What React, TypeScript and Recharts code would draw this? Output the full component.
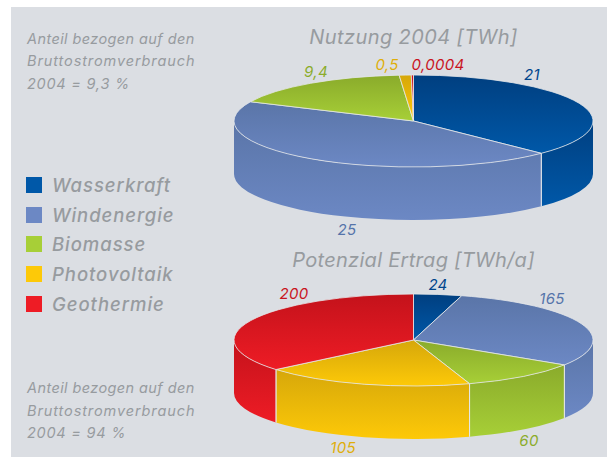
import React from 'react';
import { PieChart, Pie, Legend } from 'recharts';

const categories = ['Wasserkraft', 'Windenergie', 'Biomasse', 'Photovoltaik', 'Geothermie'];
const usage2004 = [21, 25, 9.4, 0.5, 0.0004];
const usageLabels = ['21', '25', '9,4', '0,5', '0,0004'];
const potential = [24, 165, 60, 105, 200];
const potentialLabels = ['24', '165', '60', '105', '200'];
const lightColors = ['#0058a8', '#6c88c4', '#a7cf37', '#fdc908', '#ee1c25'];
const darkColors = ['#003f80', '#5a75a8', '#8aab2b', '#d6a70a', '#c4121b'];
const labelColors = ['#00458c', '#5574aa', '#8bac2b', '#dfae0a', '#c9151e'];
const noteTop = ['Anteil bezogen auf den', 'Bruttostromverbrauch', '2004 = 9,3 %'];
const noteBottom = ['Anteil bezogen auf den', 'Bruttostromverbrauch', '2004 = 94 %'];

const FONT = 'Inter, sans-serif';
const GREY = '#979b9f';
const RX = 179.5;
const RY = 46;
const DEPTH = 53;

const usageAnchors = [[532, 80], [347, 235], [316, 77], [387, 70], [438, 70]];
const potentialAnchors = [[438, 290], [552, 304], [529, 446], [343, 453], [294, 299]];
const noteSpacing = [0.4, 0.9, 0.75];

const build = (values: number[]) =>
  categories.map((name, idx) => ({ name, value: values[idx], fill: lightColors[idx], idx }));

const rad = (a: number) => (a * Math.PI) / 180;

function Sector3D(props: any) {
  const { cx, cy, startAngle, endAngle, idx } = props;
  const pt = (a: number, dy = 0) => [cx + RX * Math.cos(rad(a)), cy - RY * Math.sin(rad(a)) + dy];
  const s = pt(startAngle);
  const e = pt(endAngle);
  const large = startAngle - endAngle > 180 ? 1 : 0;
  const top = `M${cx},${cy}L${s[0]},${s[1]}A${RX},${RY} 0 ${large} 1 ${e[0]},${e[1]}Z`;
  const hi = Math.min(startAngle, 0);
  const lo = Math.max(endAngle, -180);
  let wall: React.ReactNode = null;
  if (hi > lo) {
    const a = pt(hi);
    const b = pt(lo);
    const c = pt(lo, DEPTH);
    const d = pt(hi, DEPTH);
    wall = (
      <g>
        <path
          d={`M${a[0]},${a[1]}A${RX},${RY} 0 0 1 ${b[0]},${b[1]}L${c[0]},${c[1]}A${RX},${RY} 0 0 0 ${d[0]},${d[1]}Z`}
          fill={`url(#grad${idx})`}
        />
        {hi < 0 && <line x1={a[0]} y1={a[1]} x2={d[0]} y2={d[1]} stroke="#e4e7ea" strokeWidth={1} />}
        {lo > -180 && <line x1={b[0]} y1={b[1]} x2={c[0]} y2={c[1]} stroke="#e4e7ea" strokeWidth={1} />}
      </g>
    );
  }
  return (
    <g>
      {wall}
      <path d={top} fill={`url(#grad${idx})`} stroke="#e4e7ea" strokeWidth={0.8} />
    </g>
  );
}

const makeLabel = (texts: string[], anchors: number[][]) => (props: any) => {
  const i = props.index;
  return (
    <text
      key={i}
      x={anchors[i][0]}
      y={anchors[i][1]}
      textAnchor="middle"
      fontFamily={FONT}
      fontStyle="italic"
      fontSize={15}
      letterSpacing={0.3}
      fill={labelColors[i]}
    >
      {texts[i]}
    </text>
  );
};

function LegendList(props: any) {
  const items = (props.payload || []).slice(0, categories.length);
  return (
    <svg width={230} height={330} style={{ display: 'block' }}>
      {items.map((it: any, i: number) => {
        const top = [177, 207, 236, 266, 296][i];
        return (
          <g key={it.value}>
            <rect x={26} y={top} width={16} height={16} fill={lightColors[i]} />
            <text x={52} y={top + 15} fontFamily={FONT} fontStyle="italic" fontWeight={500} fontSize={18.5} letterSpacing={0.95} fill={GREY}>
              {it.value}
            </text>
          </g>
        );
      })}
    </svg>
  );
}

const Note = ({ lines, ys }: { lines: string[]; ys: number[] }) => (
  <g>
    {lines.map((t, i) => (
      <text key={t} x={27} y={ys[i]} fontFamily={FONT} fontStyle="italic" fontSize={14.5} letterSpacing={noteSpacing[i]} fill={GREY}>
        {t}
      </text>
    ))}
  </g>
);

export default function App() {
  return (
    <div style={{ position: 'fixed', left: 0, top: 0, width: 607, height: 457, background: '#fff' }}>
      <div style={{ position: 'absolute', left: 11, top: 7, right: 0, bottom: 0, background: '#dbdee3' }} />
      <div style={{ position: 'absolute', left: 0, top: 0 }}>
        <PieChart width={607} height={457} margin={{ top: 0, right: 0, bottom: 0, left: 0 }}>
          <defs>
            {categories.map((c, i) => (
              <linearGradient key={c} id={`grad${i}`} x1="0" y1="0" x2="0" y2="1">
                <stop offset="0%" stopColor={darkColors[i]} />
                <stop offset="100%" stopColor={lightColors[i]} />
              </linearGradient>
            ))}
          </defs>
          <text x={413.5} y={44} textAnchor="middle" fontFamily={FONT} fontStyle="italic" fontSize={20} letterSpacing={0.4} fill={GREY}>
            Nutzung 2004 [TWh]
          </text>
          <text x={413.5} y={267} textAnchor="middle" fontFamily={FONT} fontStyle="italic" fontSize={20} letterSpacing={0.3} fill={GREY}>
            Potenzial Ertrag [TWh/a]
          </text>
          <Note lines={noteTop} ys={[44, 66, 89]} />
          <Note lines={noteBottom} ys={[393, 416, 438]} />
          <Pie
            data={build(usage2004)}
            dataKey="value"
            nameKey="name"
            cx={413.5}
            cy={121}
            outerRadius={RX}
            startAngle={90}
            endAngle={-270}
            minAngle={0.7}
            stroke="none"
            isAnimationActive={false}
            shape={Sector3D}
            label={makeLabel(usageLabels, usageAnchors)}
            labelLine={false}
          />
          <Pie
            data={build(potential)}
            dataKey="value"
            nameKey="name"
            cx={413.5}
            cy={340}
            outerRadius={RX}
            startAngle={90}
            endAngle={-270}
            stroke="none"
            isAnimationActive={false}
            shape={Sector3D}
            label={makeLabel(potentialLabels, potentialAnchors)}
            labelLine={false}
          />
          <Legend
            content={<LegendList />}
            itemSorter={null as any}
            wrapperStyle={{ position: 'absolute', left: 0, top: 0, width: 230, height: 330 }}
          />
        </PieChart>
      </div>
    </div>
  );
}
